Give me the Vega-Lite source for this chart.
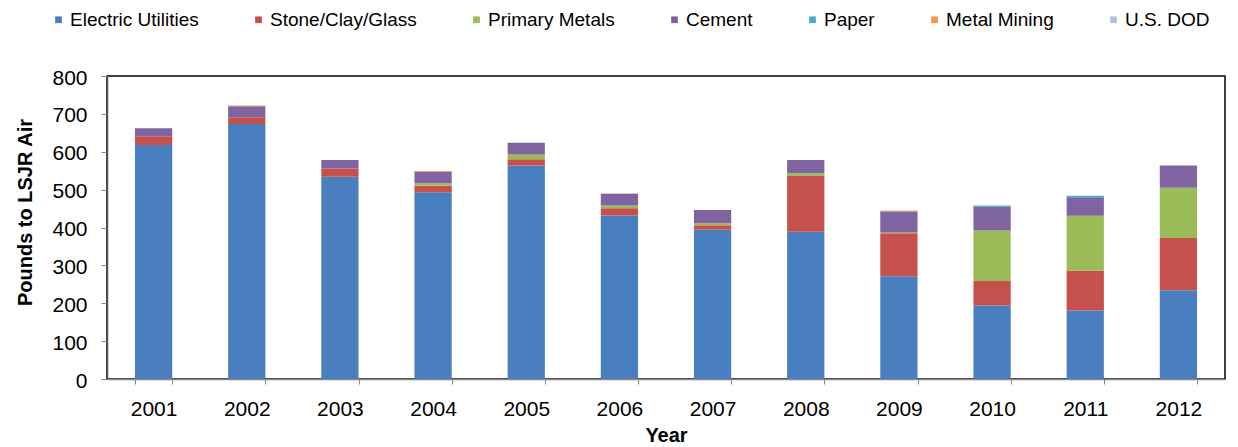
{
  "$schema": "https://vega.github.io/schema/vega-lite/v6.json",
  "autosize": {"type": "none"},
  "width": 1118,
  "height": 303,
  "padding": {"left": 107, "top": 76, "right": 13, "bottom": 68},
  "background": "#ffffff",
  "config": {
    "font": "Liberation Sans",
    "view": {"stroke": "#000000", "strokeWidth": 1.5}
  },
  "data": {
    "values": [
      {"year": "2001", "sector": "Electric Utilities", "value": 618, "k": 1},
      {"year": "2001", "sector": "Stone/Clay/Glass", "value": 23, "k": 2},
      {"year": "2001", "sector": "Cement", "value": 21, "k": 4},
      {"year": "2002", "sector": "Electric Utilities", "value": 673, "k": 1},
      {"year": "2002", "sector": "Stone/Clay/Glass", "value": 18, "k": 2},
      {"year": "2002", "sector": "Cement", "value": 29, "k": 4},
      {"year": "2002", "sector": "Metal Mining", "value": 2, "k": 6},
      {"year": "2003", "sector": "Electric Utilities", "value": 534, "k": 1},
      {"year": "2003", "sector": "Stone/Clay/Glass", "value": 22, "k": 2},
      {"year": "2003", "sector": "Cement", "value": 22, "k": 4},
      {"year": "2004", "sector": "Electric Utilities", "value": 493, "k": 1},
      {"year": "2004", "sector": "Stone/Clay/Glass", "value": 17, "k": 2},
      {"year": "2004", "sector": "Primary Metals", "value": 7, "k": 3},
      {"year": "2004", "sector": "Cement", "value": 30, "k": 4},
      {"year": "2004", "sector": "Metal Mining", "value": 2, "k": 6},
      {"year": "2005", "sector": "Electric Utilities", "value": 564, "k": 1},
      {"year": "2005", "sector": "Stone/Clay/Glass", "value": 16, "k": 2},
      {"year": "2005", "sector": "Primary Metals", "value": 13, "k": 3},
      {"year": "2005", "sector": "Cement", "value": 31, "k": 4},
      {"year": "2006", "sector": "Electric Utilities", "value": 432, "k": 1},
      {"year": "2006", "sector": "Stone/Clay/Glass", "value": 19, "k": 2},
      {"year": "2006", "sector": "Primary Metals", "value": 7, "k": 3},
      {"year": "2006", "sector": "Cement", "value": 31, "k": 4},
      {"year": "2006", "sector": "Metal Mining", "value": 1, "k": 6},
      {"year": "2007", "sector": "Electric Utilities", "value": 394, "k": 1},
      {"year": "2007", "sector": "Stone/Clay/Glass", "value": 12, "k": 2},
      {"year": "2007", "sector": "Primary Metals", "value": 5, "k": 3},
      {"year": "2007", "sector": "Cement", "value": 35, "k": 4},
      {"year": "2008", "sector": "Electric Utilities", "value": 389, "k": 1},
      {"year": "2008", "sector": "Stone/Clay/Glass", "value": 147, "k": 2},
      {"year": "2008", "sector": "Primary Metals", "value": 7, "k": 3},
      {"year": "2008", "sector": "Cement", "value": 35, "k": 4},
      {"year": "2009", "sector": "Electric Utilities", "value": 271, "k": 1},
      {"year": "2009", "sector": "Stone/Clay/Glass", "value": 114, "k": 2},
      {"year": "2009", "sector": "Primary Metals", "value": 2, "k": 3},
      {"year": "2009", "sector": "Cement", "value": 55, "k": 4},
      {"year": "2009", "sector": "Paper", "value": 1, "k": 5},
      {"year": "2009", "sector": "Metal Mining", "value": 2, "k": 6},
      {"year": "2010", "sector": "Electric Utilities", "value": 194, "k": 1},
      {"year": "2010", "sector": "Stone/Clay/Glass", "value": 65, "k": 2},
      {"year": "2010", "sector": "Primary Metals", "value": 133, "k": 3},
      {"year": "2010", "sector": "Cement", "value": 63, "k": 4},
      {"year": "2010", "sector": "Paper", "value": 3, "k": 5},
      {"year": "2011", "sector": "Electric Utilities", "value": 181, "k": 1},
      {"year": "2011", "sector": "Stone/Clay/Glass", "value": 105, "k": 2},
      {"year": "2011", "sector": "Primary Metals", "value": 145, "k": 3},
      {"year": "2011", "sector": "Cement", "value": 49, "k": 4},
      {"year": "2011", "sector": "Paper", "value": 4, "k": 5},
      {"year": "2012", "sector": "Electric Utilities", "value": 234, "k": 1},
      {"year": "2012", "sector": "Stone/Clay/Glass", "value": 138, "k": 2},
      {"year": "2012", "sector": "Primary Metals", "value": 133, "k": 3},
      {"year": "2012", "sector": "Cement", "value": 59, "k": 4}
    ]
  },
  "mark": {"type": "bar"},
  "encoding": {
    "x": {
      "field": "year",
      "type": "nominal",
      "scale": {"paddingInner": 0.6, "paddingOuter": 0.3},
      "axis": {
        "title": "Year",
        "titleFontSize": 20,
        "titleFontWeight": "bold",
        "titleColor": "#000000",
        "titlePadding": 6,
        "labelAngle": 0,
        "labelFontSize": 21,
        "labelColor": "#000000",
        "labelPadding": 14,
        "tickBand": "extent",
        "tickSize": 5,
        "tickColor": "#888888",
        "domainColor": "#888888",
        "domainWidth": 1.5
      }
    },
    "y": {
      "field": "value",
      "type": "quantitative",
      "stack": "zero",
      "scale": {"domain": [0, 800], "nice": false},
      "axis": {
        "title": "Pounds  to LSJR Air",
        "titleFontSize": 20,
        "titleFontWeight": "bold",
        "titleColor": "#000000",
        "titlePadding": 16,
        "titleY": 136,
        "values": [0, 100, 200, 300, 400, 500, 600, 700, 800],
        "labelFontSize": 21,
        "labelColor": "#000000",
        "labelPadding": 14,
        "labelOffset": 2,
        "grid": false,
        "tickSize": 6,
        "tickColor": "#888888",
        "domainColor": "#555555",
        "domainWidth": 1.5
      }
    },
    "color": {
      "field": "sector",
      "type": "nominal",
      "scale": {
        "domain": ["Electric Utilities", "Stone/Clay/Glass", "Primary Metals", "Cement", "Paper", "Metal Mining", "U.S. DOD"],
        "range": ["#4A7FBF", "#C5504C", "#9BBB59", "#8064A2", "#4BACC6", "#F79646", "#B3C0DC"]
      },
      "legend": {
        "orient": "none",
        "legendX": -58,
        "legendY": -66,
        "direction": "horizontal",
        "title": null,
        "symbolType": "square",
        "symbolSize": 45,
        "symbolStrokeWidth": 0,
        "labelFontSize": 19,
        "labelColor": "#000000",
        "labelOffset": 2,
        "columnPadding": 50
      }
    },
    "order": {"field": "k", "type": "quantitative"}
  }
}
